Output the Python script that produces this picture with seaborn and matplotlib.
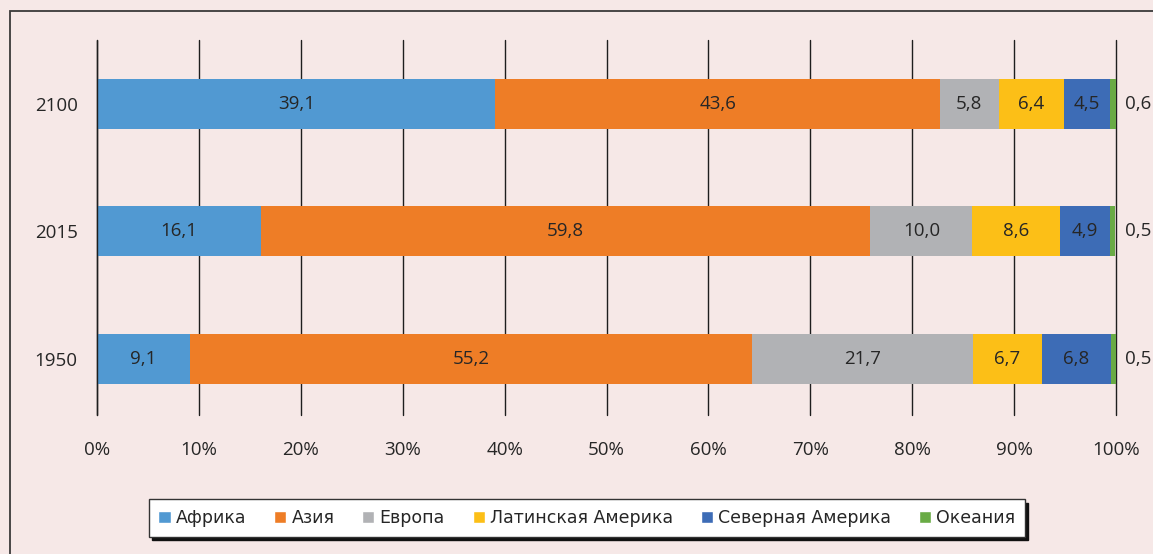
import pandas as pd
import seaborn as sns
import matplotlib.pyplot as plt
from matplotlib.patches import Patch, Rectangle

# данные: доля населения по регионам мира, %
years = ["2100", "2015", "1950"]
regions = ["Африка", "Азия", "Европа", "Латинская Америка", "Северная Америка", "Океания"]
africa = [39.1, 16.1, 9.1]
asia = [43.6, 59.8, 55.2]
europe = [5.8, 10.0, 21.7]
latam = [6.4, 8.6, 6.7]
n_america = [4.5, 4.9, 6.8]
oceania = [0.6, 0.5, 0.5]
x_ticks = [0, 10, 20, 30, 40, 50, 60, 70, 80, 90, 100]
colors = ["#5199d2", "#ee7d26", "#b1b2b5", "#fcbf17", "#3d6cb6", "#69ab45"]

bg = "#f6e8e7"
txt = "#262626"
fs = 13.5

df = pd.DataFrame({"year": years, "Африка": africa, "Азия": asia, "Европа": europe,
                   "Латинская Америка": latam, "Северная Америка": n_america, "Океания": oceania})
cum = df[regions].cumsum(axis=1)
cum["year"] = df["year"]

sns.set_style("white")
plt.rcParams["font.family"] = ["Open Sans", "DejaVu Sans"]

fig = plt.figure(figsize=(11.53, 5.54), dpi=100, facecolor=bg)
ax = fig.add_axes([97 / 1153, 1 - 415 / 554, 1019 / 1153, 375 / 554])
ax.set_facecolor(bg)

# накопленные столбцы рисуем от последнего к первому, чтобы они перекрывались
for reg, col in reversed(list(zip(regions, colors))):
    sns.barplot(data=cum, x=reg, y="year", order=years, color=col, width=0.39,
                saturation=1, linewidth=0, ax=ax, zorder=3)

# подписи значений
for i, yr in enumerate(years):
    left = 0
    for reg in regions:
        v = df.loc[i, reg]
        lab = f"{v:.1f}".replace(".", ",")
        if reg == "Океания":
            ax.text(100.9, i, lab, ha="left", va="center", fontsize=fs, color=txt, clip_on=False)
        else:
            ax.text(left + v / 2, i, lab, ha="center", va="center", fontsize=fs, color=txt, zorder=5)
        left += v

ax.set_xlim(0, 100)
ax.set_ylim(2.44, -0.5)
ax.set_xticks(x_ticks)
ax.set_xticklabels([f"{t}%" for t in x_ticks])
ax.tick_params(axis="both", length=0, labelsize=fs, labelcolor=txt)
ax.tick_params(axis="x", pad=19)
ax.tick_params(axis="y", pad=14)
ax.set_xlabel("")
ax.set_ylabel("")
ax.xaxis.grid(True, color="#1e1e1e", linewidth=1)
for gl in ax.get_xgridlines():
    gl.set_clip_on(False)
ax.set_axisbelow(True)
ax.axvline(0, color="#1e1e1e", linewidth=1, zorder=4, clip_on=False)
for s in ax.spines.values():
    s.set_visible(False)

# рамка рисунка
fig.add_artist(Rectangle((10 / 1153, -0.1), 2, 1.1 - 11 / 554, transform=fig.transFigure,
                         fill=False, edgecolor="#3a3a3a", linewidth=1.3))

handles = [Patch(facecolor=c, label=r) for r, c in zip(regions, colors)]
leg = fig.legend(handles=handles, loc="center", bbox_to_anchor=(587 / 1153, 1 - 518 / 554),
                 ncol=6, frameon=True, fancybox=False,
                 handlelength=0.7, handleheight=0.7, handletextpad=0.3, columnspacing=1.6,
                 borderpad=0.55, shadow={"color": "#111111", "alpha": 1, "ox": 2.3, "oy": -2.3},
                 prop={"family": "DejaVu Sans", "size": 12.5})
leg.get_frame().set_edgecolor("#333333")
leg.get_frame().set_linewidth(1)
leg.get_frame().set_facecolor("white")
for t in leg.get_texts():
    t.set_color(txt)

plt.savefig("out.png", dpi=100, facecolor=bg)
